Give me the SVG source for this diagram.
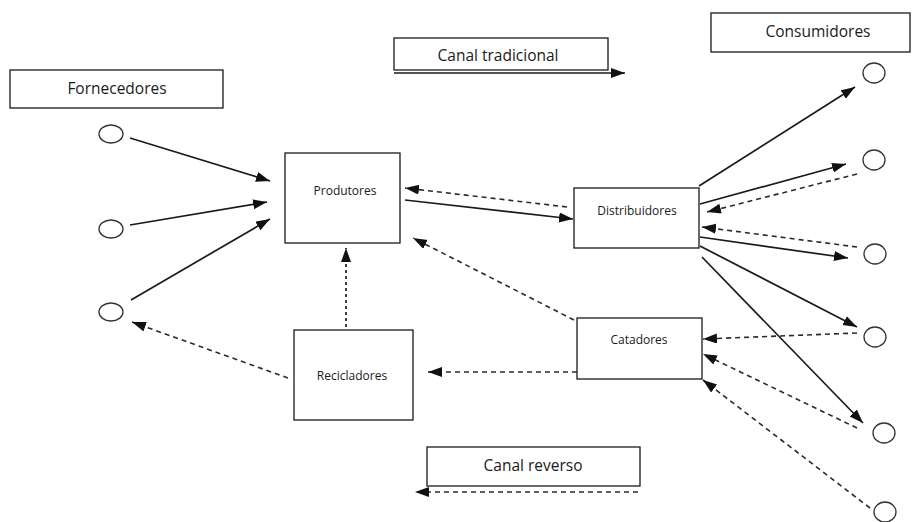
<svg xmlns="http://www.w3.org/2000/svg" width="912" height="522" viewBox="0 0 912 522">
  <style>
    .box { fill: #fff; stroke: #1a1a1a; stroke-width: 1.3; }
    .title { font-family: "Open Sans", "Noto Sans", sans-serif; font-size: 15.5px; fill: #1a1a1a; text-anchor: middle; dominant-baseline: central; }
    .lbl { font-family: "Open Sans", "Noto Sans", sans-serif; font-size: 12px; fill: #1a1a1a; text-anchor: middle; dominant-baseline: central; }
    .dot { fill: #fff; stroke: #333; stroke-width: 1.3; }
    .solid { stroke: #1a1a1a; stroke-width: 1.7; fill: none; marker-end: url(#head); }
    .dash { stroke: #2a2a2a; stroke-width: 1.6; fill: none; stroke-dasharray: 5 4; marker-end: url(#head); }
    .dotted { stroke: #2a2a2a; stroke-width: 1.8; fill: none; stroke-dasharray: 3 3; marker-end: url(#head); }
  </style>
  <defs>
    <marker id="head" markerUnits="userSpaceOnUse" markerWidth="16" markerHeight="12" refX="14" refY="5" orient="auto">
      <path d="M0,0 L14,5 L0,10 z" fill="#111"/>
    </marker>
  </defs>

  <rect width="912" height="522" fill="#fff"/>

  <!-- legend labels -->
  <g id="fornecedores">
    <rect class="box" x="10" y="70" width="213" height="38"/>
    <text class="title" x="117" y="88">Fornecedores</text>
  </g>
  <g id="consumidores">
    <rect class="box" x="711" y="13" width="199" height="39"/>
    <text class="title" x="818" y="31">Consumidores</text>
  </g>
  <g id="canal-tradicional">
    <rect class="box" x="394" y="38" width="214" height="32"/>
    <text class="title" x="498" y="55">Canal tradicional</text>
  </g>
  <g id="canal-reverso">
    <rect class="box" x="427" y="447" width="213" height="39"/>
    <text class="title" x="533" y="465">Canal reverso</text>
  </g>

  <!-- supplier circles -->
  <g id="fornecedor-1"><ellipse class="dot" cx="111" cy="134" rx="12" ry="9"/></g>
  <g id="fornecedor-2"><ellipse class="dot" cx="111" cy="229" rx="12" ry="9"/></g>
  <g id="fornecedor-3"><ellipse class="dot" cx="111" cy="312" rx="12" ry="9"/></g>

  <!-- consumer circles -->
  <g id="consumidor-1"><ellipse class="dot" cx="874" cy="73" rx="11" ry="10"/></g>
  <g id="consumidor-2"><ellipse class="dot" cx="874" cy="160" rx="11" ry="10"/></g>
  <g id="consumidor-3"><ellipse class="dot" cx="875" cy="254" rx="11" ry="10"/></g>
  <g id="consumidor-4"><ellipse class="dot" cx="875" cy="337" rx="11" ry="10"/></g>
  <g id="consumidor-5"><ellipse class="dot" cx="884" cy="433" rx="11" ry="10"/></g>
  <g id="consumidor-6"><ellipse class="dot" cx="885" cy="512" rx="11" ry="10"/></g>

  <!-- main nodes -->
  <g id="produtores">
    <rect class="box" x="285" y="153" width="115" height="90"/>
    <text class="lbl" x="345" y="190">Produtores</text>
  </g>
  <g id="distribuidores">
    <rect class="box" x="574" y="188" width="125" height="60"/>
    <text class="lbl" x="637" y="210">Distribuidores</text>
  </g>
  <g id="catadores">
    <rect class="box" x="577" y="318" width="125" height="61"/>
    <text class="lbl" x="639" y="339">Catadores</text>
  </g>
  <g id="recicladores">
    <rect class="box" x="294" y="330" width="119" height="90"/>
    <text class="lbl" x="352" y="375">Recicladores</text>
  </g>

  <g id="connectors">
    <!-- legend arrows -->
    <line class="solid" x1="394" y1="73" x2="625" y2="73"/>
    <line class="dash" x1="638" y1="492" x2="415" y2="492"/>

    <!-- suppliers to producers -->
    <line class="solid" x1="130" y1="138" x2="270" y2="181"/>
    <line class="solid" x1="130" y1="225" x2="267" y2="202"/>
    <line class="solid" x1="131" y1="300" x2="270" y2="219"/>

    <!-- producers and distributors -->
    <line class="solid" x1="405" y1="200" x2="573" y2="219"/>
    <line class="dash" x1="567" y1="207" x2="405" y2="188"/>

    <!-- distributors to consumers -->
    <line class="solid" x1="699" y1="186" x2="855" y2="87"/>
    <line class="solid" x1="700" y1="204" x2="846" y2="164"/>
    <line class="dash" x1="857" y1="174" x2="707" y2="212"/>
    <line class="dash" x1="857" y1="247" x2="702" y2="227"/>
    <line class="solid" x1="700" y1="237" x2="848" y2="258"/>
    <line class="solid" x1="700" y1="246" x2="857" y2="327"/>
    <line class="solid" x1="702" y1="257" x2="863" y2="423"/>

    <!-- consumers to collectors -->
    <line class="dash" x1="857" y1="333" x2="703" y2="339"/>
    <line class="dash" x1="857" y1="428" x2="703" y2="354"/>
    <line class="dash" x1="870" y1="508" x2="703" y2="380"/>

    <!-- reverse flow -->
    <line class="dash" x1="574" y1="320" x2="413" y2="238"/>
    <line class="dash" x1="577" y1="372" x2="428" y2="372"/>
    <line class="dotted" x1="346" y1="327" x2="346" y2="248"/>
    <line class="dash" x1="288" y1="378" x2="132" y2="322"/>
  </g>
</svg>
